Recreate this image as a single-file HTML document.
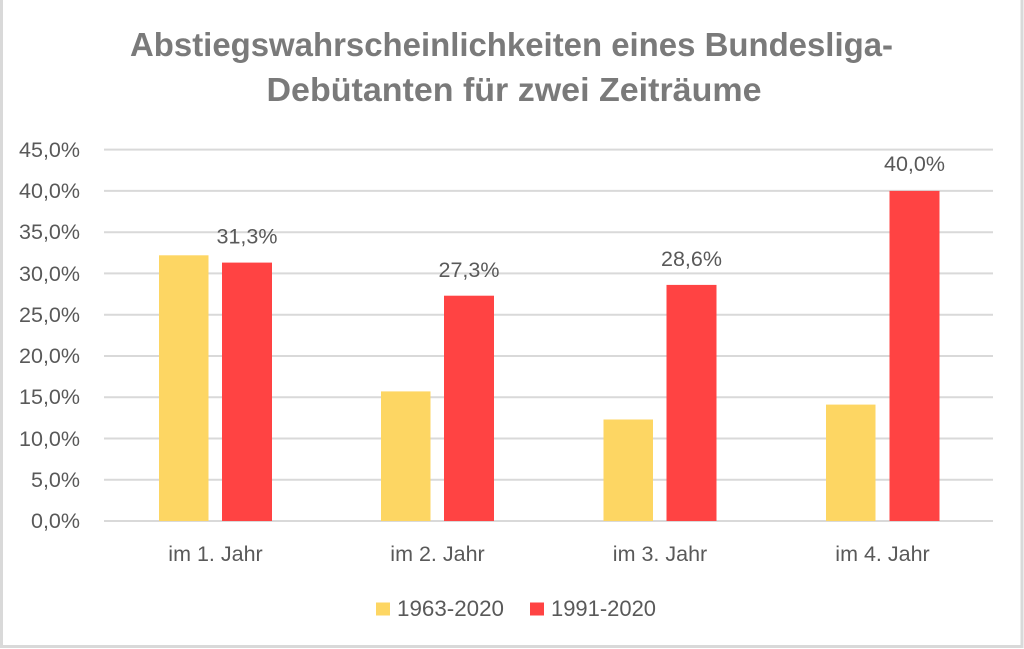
<!DOCTYPE html>
<html>
<head>
<meta charset="utf-8">
<style>
  html, body { margin: 0; padding: 0; background: #ffffff; }
  svg { display: block; }
  text { font-family: "Liberation Sans", "DejaVu Sans", sans-serif; }
</style>
</head>
<body>
<svg width="1024" height="649" viewBox="0 0 1024 649" xmlns="http://www.w3.org/2000/svg">
  <rect x="0" y="0" width="1024" height="649" fill="#ffffff"/>
  <!-- outer border -->
  <rect x="1.5" y="-2" width="1020.5" height="648.5" fill="none" stroke="#d9d9d9" stroke-width="3"/>

  <!-- Title -->
  <text x="511.5" y="56" text-anchor="middle" font-size="33" font-weight="bold" fill="#7a7a7a" textLength="763" lengthAdjust="spacingAndGlyphs">Abstiegswahrscheinlichkeiten eines Bundesliga-</text>
  <text x="514" y="101" text-anchor="middle" font-size="33" font-weight="bold" fill="#7a7a7a" textLength="495" lengthAdjust="spacingAndGlyphs">Debütanten für zwei Zeiträume</text>

  <!-- Gridlines -->
  <g stroke="#d9d9d9" stroke-width="2">
    <line x1="104" x2="993" y1="149.6" y2="149.6"/>
    <line x1="104" x2="993" y1="190.9" y2="190.9"/>
    <line x1="104" x2="993" y1="232.2" y2="232.2"/>
    <line x1="104" x2="993" y1="273.4" y2="273.4"/>
    <line x1="104" x2="993" y1="314.7" y2="314.7"/>
    <line x1="104" x2="993" y1="356.0" y2="356.0"/>
    <line x1="104" x2="993" y1="397.2" y2="397.2"/>
    <line x1="104" x2="993" y1="438.5" y2="438.5"/>
    <line x1="104" x2="993" y1="479.7" y2="479.7"/>
    <line x1="104" x2="993" y1="521" y2="521"/>
  </g>

  <!-- Y tick labels -->
  <g font-size="21.5" fill="#595959" text-anchor="end">
    <text x="80" y="157">45,0%</text>
    <text x="80" y="198">40,0%</text>
    <text x="80" y="239">35,0%</text>
    <text x="80" y="281">30,0%</text>
    <text x="80" y="322">25,0%</text>
    <text x="80" y="363">20,0%</text>
    <text x="80" y="404">15,0%</text>
    <text x="80" y="446">10,0%</text>
    <text x="80" y="487">5,0%</text>
    <text x="80" y="528">0,0%</text>
  </g>

  <!-- Bars: yellow (1963-2020) -->
  <g fill="#fdd663">
    <rect x="159" y="255.3" width="49.5" height="265.7"/>
    <rect x="381" y="391.4" width="49.5" height="129.6"/>
    <rect x="603.5" y="419.5" width="49.5" height="101.5"/>
    <rect x="826" y="404.6" width="49.5" height="116.4"/>
  </g>
  <!-- Bars: red (1991-2020) -->
  <g fill="#ff4343">
    <rect x="222" y="262.6" width="50" height="258.4"/>
    <rect x="444" y="295.7" width="50" height="225.3"/>
    <rect x="666.5" y="284.9" width="50" height="236.1"/>
    <rect x="889.5" y="190.9" width="50" height="330.1"/>
  </g>

  <!-- Data labels -->
  <g font-size="21.5" fill="#595959" text-anchor="middle">
    <text x="247" y="243.5">31,3%</text>
    <text x="469" y="277">27,3%</text>
    <text x="691.5" y="266">28,6%</text>
    <text x="914.5" y="171">40,0%</text>
  </g>

  <!-- X labels -->
  <g font-size="21.5" fill="#595959" text-anchor="middle">
    <text x="215.5" y="561">im 1. Jahr</text>
    <text x="437.5" y="561">im 2. Jahr</text>
    <text x="660" y="561">im 3. Jahr</text>
    <text x="882.5" y="561">im 4. Jahr</text>
  </g>

  <!-- Legend -->
  <rect x="376" y="602.5" width="14" height="13" fill="#fdd663"/>
  <text x="397" y="616" font-size="22" fill="#595959" textLength="107" lengthAdjust="spacingAndGlyphs">1963-2020</text>
  <rect x="530" y="602.5" width="14" height="13" fill="#ff4343"/>
  <text x="551" y="616" font-size="22" fill="#595959" textLength="105" lengthAdjust="spacingAndGlyphs">1991-2020</text>
</svg>
</body>
</html>
